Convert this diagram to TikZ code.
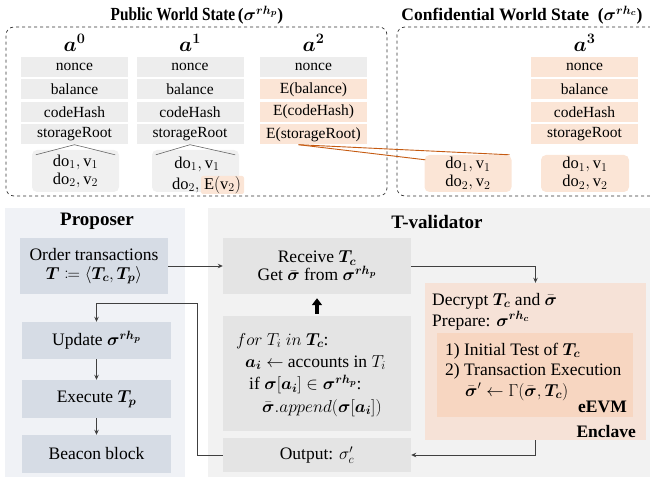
\documentclass[tikz,border=0pt]{standalone}
\usepackage{amsmath,amssymb,bm,mathtools}
\usepackage{fontspec}
\setmainfont{Liberation Serif}
\usepackage{graphicx}
\usetikzlibrary{arrows.meta,calc}
\definecolor{gfill}{HTML}{EDEDED}
\definecolor{lfill}{HTML}{F0F0F0}
\definecolor{ofill}{HTML}{FBE5D6}
\definecolor{oline}{HTML}{C55A11}
\definecolor{ppanel}{HTML}{F0F2F6}
\definecolor{pbox}{HTML}{D6DCE5}
\definecolor{tpanel}{HTML}{F2F2F2}
\definecolor{tbox}{HTML}{E4E4E4}
\definecolor{encl}{HTML}{F6E2D7}
\definecolor{evm}{HTML}{F7D6C1}
\definecolor{aline}{HTML}{404040}
\newcommand{\fsTop}{\fontsize{15.5pt}{19pt}\selectfont}
\newcommand{\fsLeaf}{\fontsize{16.5pt}{19pt}\selectfont}
\newcommand{\fsBot}{\fontsize{17.5pt}{21pt}\selectfont}
\newcommand{\fsTitle}{\fontsize{17.5pt}{21pt}\selectfont\bfseries}
\newcommand{\fsHead}{\fontsize{19pt}{22pt}\selectfont\bfseries}
\newcommand{\bs}[1]{\boldsymbol{#1}}
\begin{document}
\begin{tikzpicture}[x=1pt,y=-1pt,
  fieldbox/.style={minimum width=107pt,minimum height=20pt,inner sep=0pt,font=\fsTop},
  gfield/.style={fieldbox,fill=gfill},
  ofield/.style={fieldbox,fill=ofill},
  hdr/.style={inner sep=0pt,font=\fontsize{20pt}{22pt}\selectfont},
  leafbox/.style={minimum width=87pt,minimum height=42pt,inner sep=0pt,rounded corners=5pt,font=\fsLeaf,align=center},
  leaftxt/.style={inner sep=0pt,font=\fsLeaf},
  treeline/.style={draw=gray!80!black,line width=0.6pt},
  orline/.style={draw=oline,line width=0.9pt},
  wstate/.style={draw=black!80,dashed,line width=0.7pt,rounded corners=8pt},
  panelbox/.style={inner sep=0pt,draw=none},
  pstep/.style={fill=pbox,inner sep=0pt,minimum width=149pt,font=\fsBot,align=center},
  tstep/.style={fill=tbox,inner sep=0pt,minimum width=188pt,font=\fsBot,align=center},
  txtblock/.style={inner sep=0pt,anchor=base west,align=left},
  txt/.style={inner sep=0pt,font=\fsBot,anchor=base east},
  arr/.style={draw=aline,line width=0.9pt,-{Stealth[length=5pt,width=4.5pt]}}
]
\useasboundingbox (0,0) rectangle (650,481);

% ---------- top titles ----------
\node[inner sep=0pt] (pubtitle) at (197,15) {\scalebox{0.83}[1]{\fontsize{18.5pt}{21pt}\selectfont\bfseries Public World State} \fsTitle ($\bs{\sigma^{rh_p}}$)};
\node[inner sep=0pt] (conftitle) at (522,15) {\fsTitle Confidential World State ~($\bs{\sigma^{rh_c}}$)};

% ---------- world state boxes ----------
\node[wstate,minimum width=381pt,minimum height=169pt,inner sep=0pt] (pubbox) at (196.5,111.5) {};
\node[wstate,minimum width=262pt,minimum height=169pt,inner sep=0pt] (confbox) at (528,111.5) {};

% ---------- a^0 ----------
\node[hdr] (h0) at (74.5,43) {$\bs{a^0}$};
\node[gfield] (n0) at (74.5,67) {nonce};
\node[gfield] (b0) at (74.5,89.5) {balance};
\node[gfield] (c0) at (74.5,112) {codeHash};
\node[gfield] (s0) at (74.5,134.5) {storageRoot};
\node[leafbox,fill=lfill] (l0) at (75.5,171) {$\mathrm{do}_1,\mathrm{v}_1$\\[-1pt]$\mathrm{do}_2,\mathrm{v}_2$};
\draw[treeline] (s0.south) -- ($(l0.north west)+(4,5)$);
\draw[treeline] (s0.south) -- ($(l0.north east)+(-4,5)$);

% ---------- a^1 ----------
\node[hdr] (h1) at (190,43) {$\bs{a^1}$};
\node[gfield] (n1) at (190,67) {nonce};
\node[gfield] (b1) at (190,89.5) {balance};
\node[gfield] (c1) at (190,112) {codeHash};
\node[gfield] (s1) at (190,134.5) {storageRoot};
\node[leafbox,fill=lfill] (l1) at (195.5,171) {};
\draw[treeline] (s1.south) -- ($(l1.north west)+(4,5)$);
\draw[treeline] (s1.south) -- ($(l1.north east)+(-4,5)$);
\node[leaftxt] (l1a) at (197,164) {$\mathrm{do}_1,\mathrm{v}_1$};
\node[fill=ofill,inner sep=0pt,minimum width=43pt,minimum height=18pt,font=\fsLeaf,rounded corners=2pt] (ev) at (222.5,185) {$\mathrm{E}(\mathrm{v}_2)$};
\node[leaftxt,anchor=east] (l1b) at ([xshift=-1pt]ev.west) {$\mathrm{do}_2,$};

% ---------- a^2 ----------
\node[hdr] (h2) at (313.5,43) {$\bs{a^2}$};
\node[gfield] (n2) at (313.5,67) {nonce};
\node[ofield] (b2) at (313.5,89.5) {E(balance)};
\node[ofield] (c2) at (313.5,112) {E(codeHash)};
\node[ofield] (s2) at (313.5,134.5) {E(storageRoot)};

% ---------- a^3 ----------
\node[hdr] (h3) at (584.5,43) {$\bs{a^3}$};
\node[ofield] (n3) at (584.5,67) {nonce};
\node[ofield] (b3) at (584.5,89.5) {balance};
\node[ofield] (c3) at (584.5,112) {codeHash};
\node[ofield] (s3) at (584.5,134.5) {storageRoot};

% ---------- confidential leaves ----------
\node[leafbox,fill=ofill,minimum height=37pt] (cl0) at (468,173.5) {$\mathrm{do}_1,\mathrm{v}_1$\\[-1pt]$\mathrm{do}_2,\mathrm{v}_2$};
\node[leafbox,fill=ofill,minimum height=37pt,minimum width=88pt] (cl1) at (585,173.5) {$\mathrm{do}_1,\mathrm{v}_1$\\[-1pt]$\mathrm{do}_2,\mathrm{v}_2$};
\coordinate (orstart) at ($(s2.south)+(-15,0)$);
\draw[orline] (orstart) -- ($(cl0.north east)+(-2,0)$);
\draw[orline] (orstart) -- ($(cl0.north west)+(1,5)$);

% ---------- panels ----------
\node[panelbox,fill=ppanel,minimum width=180pt,minimum height=269pt] (ppan) at (95,342.5) {};
\node[panelbox,fill=tpanel,minimum width=447pt,minimum height=269pt] (tpan) at (431.5,342.5) {};
\node[inner sep=0pt,font=\fsHead] (ptitle) at (97,221) {Proposer};
\node[inner sep=0pt,font=\fsHead] (ttitle) at (437,222) {T-validator};

% ---------- proposer steps ----------
\node[pstep,minimum width=148pt,minimum height=56pt] (order) at (94,266) {Order transactions\\[-2pt]$\bs{T}\coloneqq\langle\bs{T_c},\bs{T_p}\rangle$};
\node[pstep,minimum height=37pt] (update) at (96.5,340.5) {Update $\bs{\sigma^{rh_p}}$};
\node[pstep,minimum height=38pt] (exec) at (96.5,399) {Execute $\bs{T_p}$};
\node[pstep,minimum height=38pt] (beacon) at (96.5,454) {Beacon block};

% ---------- validator steps ----------
\node[tstep,minimum height=56pt] (receive) at (317,266) {Receive $\bs{T_c}$\\[-3pt]Get $\bar{\bs{\sigma}}$ from $\bs{\sigma^{rh_p}}$};
\node[tstep,minimum height=115pt] (forbox) at (317,373.5) {};
\node[tstep,minimum height=34pt] (output) at (317,455) {Output: $\sigma_c'$};
\node[txtblock,font=\fontsize{17.5pt}{22.3pt}\selectfont] (forcode) at (236,412) {%
$for\ T_i\ in\ \bs{T_c}$:\\
\hspace*{9pt}$\bs{a_i}\leftarrow$ accounts in $T_i$\\
\hspace*{13pt}if $\bs{\sigma}[\bs{a_i}]\in\bs{\sigma^{rh_p}}$:\\
\hspace*{26pt}$\bar{\bs{\sigma}}.append(\bs{\sigma}[\bs{a_i}])$};

% ---------- enclave ----------
\node[inner sep=0pt,fill=encl,minimum width=221pt,minimum height=157pt] (enclave) at (535.5,361.5) {};
\node[inner sep=0pt,fill=evm,minimum width=196pt,minimum height=84pt] (eevm) at (535,375) {};
\node[txtblock,font=\fontsize{17.5pt}{21pt}\selectfont] (etop) at (432,326) {%
Decrypt $\bs{T_c}$ and $\bar{\bs{\sigma}}$\\
Prepare: $\bs{\sigma^{rh_c}}$};
\node[txtblock,font=\fontsize{17.5pt}{20.5pt}\selectfont] (esteps) at (445,396) {%
1) Initial Test of $\bs{T_c}$\\
2) Transaction Execution\\
\hspace*{20pt}$\bar{\bs{\sigma}}'\leftarrow\Gamma(\bar{\bs{\sigma}},\bs{T_c})$};
\node[txt,font=\fsBot\bfseries] (evmlabel) at (627,412) {eEVM};
\node[txt,font=\fsBot\bfseries] (encllabel) at (636,437) {Enclave};

% ---------- connectors ----------
\draw[arr] (order.east) -- (receive.west);
\draw[arr] (receive.east) -| (enclave.north);
\draw[arr] (enclave.south) |- (output.east);
\coordinate (fb1) at (197,303);
\draw[arr] (output.west) -| (fb1) -| (update.north);
\draw[arr] (update.south) -- (exec.north);
\draw[arr] (exec.south) -- (beacon.north);
\draw[line width=3.5pt,-{Triangle[length=7pt,width=10pt]}] ([yshift=2pt]forbox.north) -- ([yshift=-4pt]receive.south);
\end{tikzpicture}
\end{document}
